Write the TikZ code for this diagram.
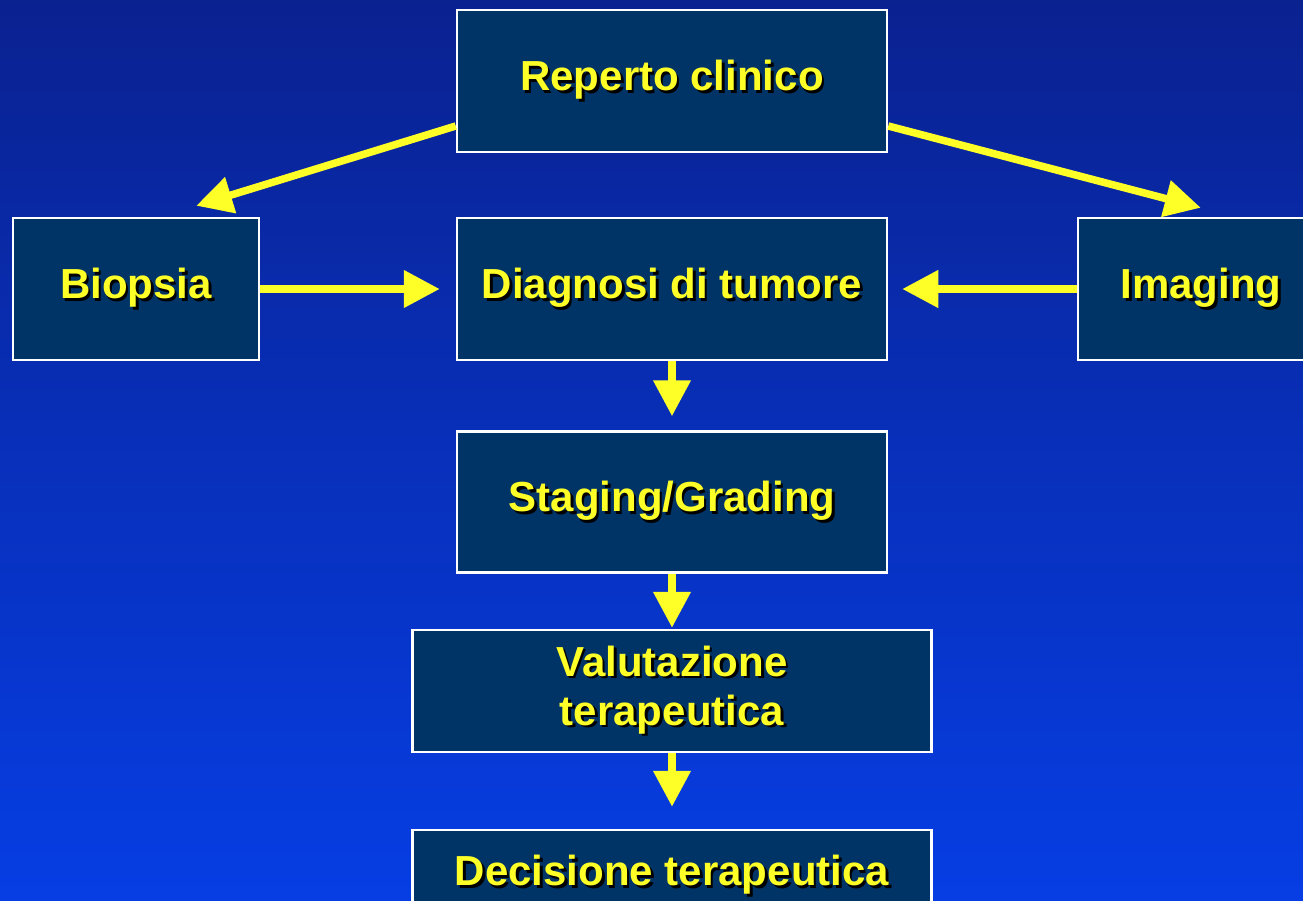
\documentclass[tikz,border=0pt]{standalone}
\usepackage{fontspec}
\setmainfont{Liberation Sans}
\usetikzlibrary{arrows.meta}
\definecolor{bgtop}{RGB}{10,33,144}
\definecolor{bgbot}{RGB}{6,62,228}
\definecolor{boxfill}{RGB}{0,51,102}
\definecolor{arrowyellow}{RGB}{255,255,40}
\newcommand{\shd}[1]{\makebox[0pt][l]{\kern2.5pt\raisebox{-2.5pt}{\color{black}#1}}#1}
\tikzset{
  box/.style={draw=white, line width=2.5pt, fill=boxfill, text=arrowyellow,
    font=\fontsize{42}{49}\selectfont\bfseries, align=center, inner sep=0pt},
  arr/.style={arrowyellow, line width=7.5pt, -{Triangle[length=36pt,width=36pt]}}
}
\begin{document}
\begin{tikzpicture}[x=1pt,y=-1pt]
  \useasboundingbox (0,0) rectangle (1303,901);
  \clip (0,0) rectangle (1303,901);
  \shade[top color=bgtop, bottom color=bgbot] (0,0) rectangle (1303,901);
  % boxes
  \node[box, minimum width=430pt, minimum height=142pt] (reperto) at (672,81) {\shd{Reperto clinico}};
  \node[box, minimum width=246pt, minimum height=142pt] (biopsia) at (136,289) {\shd{Biopsia}};
  \node[box, minimum width=430pt, minimum height=142pt] (diagnosi) at (672,289) {\shd{Diagnosi di tumore}};
  \node[box, minimum width=246pt, minimum height=142pt] (imaging) at (1201,289) {\shd{Imaging}};
  \node[box, minimum width=430pt, minimum height=141pt] (staging) at (672,502) {\shd{Staging/Grading}};
  \node[box, minimum width=519pt, minimum height=122pt] (valutazione) at (672,691) {\shd{Valutazione}\\ \shd{terapeutica}};
  \node[box, minimum width=519pt, minimum height=92pt] (decisione) at (672,876) {\shd{Decisione terapeutica}};
  % arrows
  \draw[arr] ([yshift=-45pt]reperto.west) -- ([xshift=-64pt,yshift=11pt]biopsia.north east);
  \draw[arr] ([yshift=-45pt]reperto.east) -- ([xshift=124pt,yshift=9pt]imaging.north west);
  \draw[arr] (biopsia.east) -- ([xshift=-16pt]diagnosi.west);
  \draw[arr] (imaging.west) -- ([xshift=14pt]diagnosi.east);
  \draw[arr] (diagnosi.south) -- ([yshift=14pt]staging.north);
  \draw[arr] (staging.south) -- ([yshift=1pt]valutazione.north);
  \draw[arr] (valutazione.south) -- ([yshift=22pt]decisione.north);
\end{tikzpicture}
\end{document}
